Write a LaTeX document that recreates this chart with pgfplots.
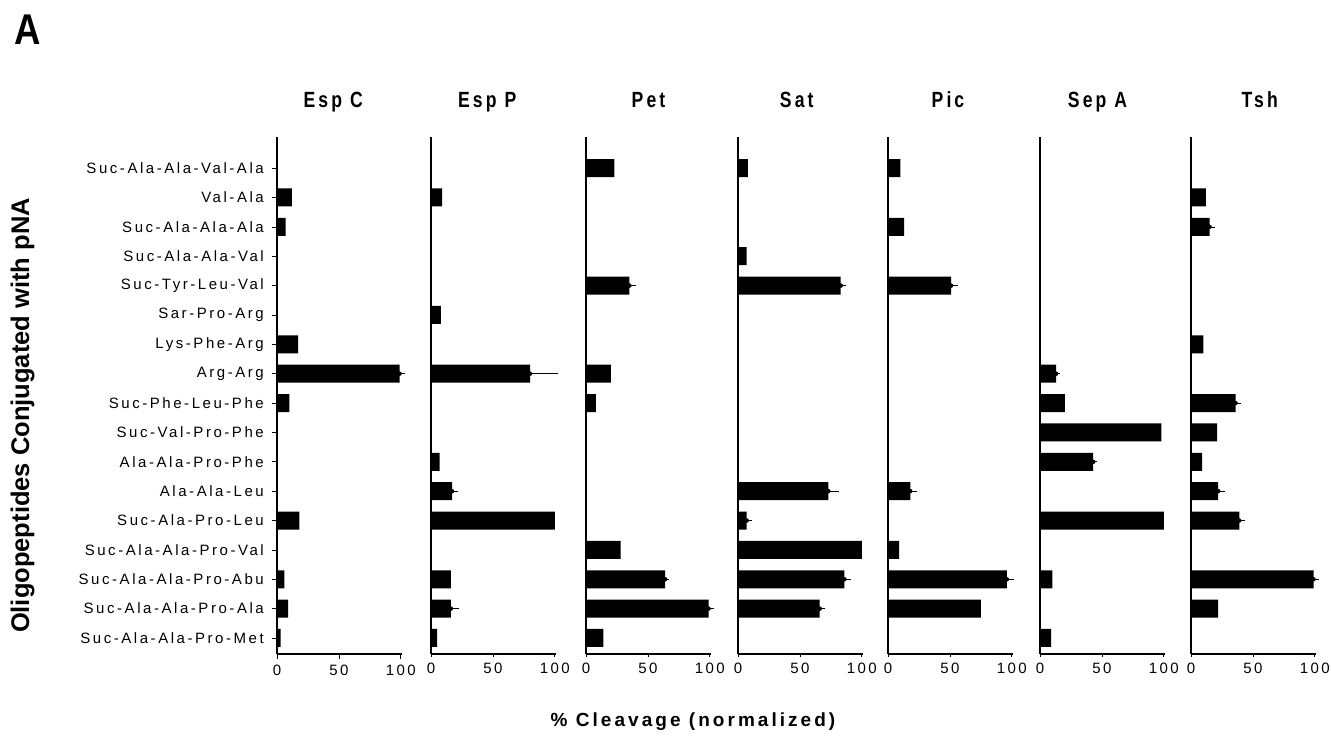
\documentclass[border=0pt]{standalone}
\usepackage{pgfplots}
\pgfplotsset{compat=1.18}
\usepackage{fontspec}
\setmainfont{Liberation Sans}
\newfontfamily\lblfont[LetterSpace=17]{Liberation Sans}
\newfontfamily\numfont[LetterSpace=16]{Liberation Sans}
\newfontfamily\xlfont[LetterSpace=16]{Liberation Sans}
\newfontfamily\titlefont[LetterSpace=14,FakeStretch=0.8]{Liberation Sans}
\newfontfamily\bigAfont[FakeStretch=0.85]{Liberation Sans}
\pgfplotsset{
  panel/.style={
    scale only axis, width=125bp, height=517bp,
    xmin=0, xmax=101, ymin=-0.545, ymax=17.06,
    axis lines*=left,
    axis line style={line width=1.1bp, black},
    xtick={0,50,100}, xticklabels={0,50,100},
    tick align=outside, major tick length=3bp,
    tick style={black, line width=0.6bp},
    /pgf/number format/assume math mode=true,
    xticklabel style={font=\numfont\fontsize{15bp}{17bp}\selectfont, inner sep=0pt, anchor=north, yshift=-6bp},
    ytick=\empty,
    clip=false,
    bar width=18bp,
    anchor=south west,
    title style={font=\titlefont\bfseries\fontsize{22bp}{25bp}\selectfont, anchor=base, yshift=24bp},
  },
  bars/.style={xbar, fill=black, draw=none},
  errs/.style={only marks, mark=none,
    error bars/.cd, x dir=plus, x explicit,
    error bar style={black, line width=0.7bp},
    error mark options={black, line width=0.7bp, mark size=3bp}},
}
\begin{document}
\begin{tikzpicture}
\useasboundingbox (0,0) rectangle (1331bp,740bp);
% Esp C
\begin{axis}[panel, at={(277bp,86bp)},
  title={Esp C}, title style={at={(axis description cs:0.45,1)}},
  ytick={0,1,...,16},
  yticklabels={Suc-Ala-Ala-Pro-Met,Suc-Ala-Ala-Pro-Ala,Suc-Ala-Ala-Pro-Abu,Suc-Ala-Ala-Pro-Val,Suc-Ala-Pro-Leu,Ala-Ala-Leu,Ala-Ala-Pro-Phe,Suc-Val-Pro-Phe,Suc-Phe-Leu-Phe,Arg-Arg,Lys-Phe-Arg,Sar-Pro-Arg,Suc-Tyr-Leu-Val,Suc-Ala-Ala-Val,Suc-Ala-Ala-Ala,Val-Ala,Suc-Ala-Ala-Val-Ala},
  yticklabel style={font=\lblfont\fontsize{15bp}{17bp}\selectfont, anchor=east, inner sep=0pt, xshift=-8bp},
  major tick length=5bp]
\addplot[bars] coordinates {(12,15) (7,14) (17,10) (99,9) (10,8) (18,4) (6,2) (9,1) (3,0)};
\addplot[errs] coordinates {(99,9) +- (2,0)};
\end{axis}
% Esp P
\begin{axis}[panel, at={(431bp,86bp)},
  title={Esp P}, title style={at={(axis description cs:0.45,1)}}]
\addplot[bars] coordinates {(9,15) (8,11) (80,9) (7,6) (17,5) (100,4) (16,2) (16,1) (5,0)};
\addplot[errs] coordinates {(80,9) +- (20,0) (17,5) +- (2,0) (16,1) +- (4,0)};
\end{axis}
% Pet
\begin{axis}[panel, at={(586bp,86bp)},
  title={Pet}, title style={at={(axis description cs:0.5,1)}}]
\addplot[bars] coordinates {(23,16) (35,12) (20,9) (8,8) (28,3) (64,2) (99,1) (14,0)};
\addplot[errs] coordinates {(35,12) +- (3,0) (64,2) +- (1,0) (99,1) +- (2,0)};
\end{axis}
% Sat
\begin{axis}[panel, at={(738bp,86bp)},
  title={Sat}, title style={at={(axis description cs:0.47,1)}}]
\addplot[bars] coordinates {(8,16) (7,13) (83,12) (73,5) (7,4) (100,3) (86,2) (66,1)};
\addplot[errs] coordinates {(83,12) +- (2,0) (73,5) +- (6,0) (7,4) +- (2,0) (86,2) +- (3,0) (66,1) +- (2,0)};
\end{axis}
% Pic
\begin{axis}[panel, at={(888bp,86bp)},
  title={Pic}, title style={at={(axis description cs:0.48,1)}}]
\addplot[bars] coordinates {(10,16) (13,14) (51,12) (18,5) (9,3) (96,2) (75,1)};
\addplot[errs] coordinates {(51,12) +- (3,0) (18,5) +- (3,0) (96,2) +- (3,0)};
\end{axis}
% Sep A
\begin{axis}[panel, at={(1040bp,86bp)},
  title={Sep A}, title style={at={(axis description cs:0.46,1)}}]
\addplot[bars] coordinates {(13,9) (20,8) (98,7) (43,6) (100,4) (10,2) (9,0)};
\addplot[errs] coordinates {(13,9) +- (1,0) (43,6) +- (1,0)};
\end{axis}
% Tsh
\begin{axis}[panel, at={(1191bp,86bp)},
  title={Tsh}, title style={at={(axis description cs:0.55,1)}}]
\addplot[bars] coordinates {(12,15) (15,14) (10,10) (36,8) (21,7) (9,6) (22,5) (39,4) (99,2) (22,1)};
\addplot[errs] coordinates {(15,14) +- (2,0) (36,8) +- (2,0) (22,5) +- (3,0) (39,4) +- (2,0) (99,2) +- (2,0)};
\end{axis}
% labels
\node[anchor=base west, inner sep=0pt, font=\bigAfont\bfseries\fontsize{43bp}{46bp}\selectfont] at (14bp,695bp) {A};
\node[anchor=base, rotate=90, inner sep=0pt, font=\bfseries\fontsize{25.5bp}{28bp}\selectfont] at (29bp,324.5bp) {Oligopeptides Conjugated with pNA};
\node[anchor=base, inner sep=0pt, font=\xlfont\bfseries\fontsize{19bp}{22bp}\selectfont] at (693bp,14bp) {\% Cleavage (normalized)};
\end{tikzpicture}
\end{document}
